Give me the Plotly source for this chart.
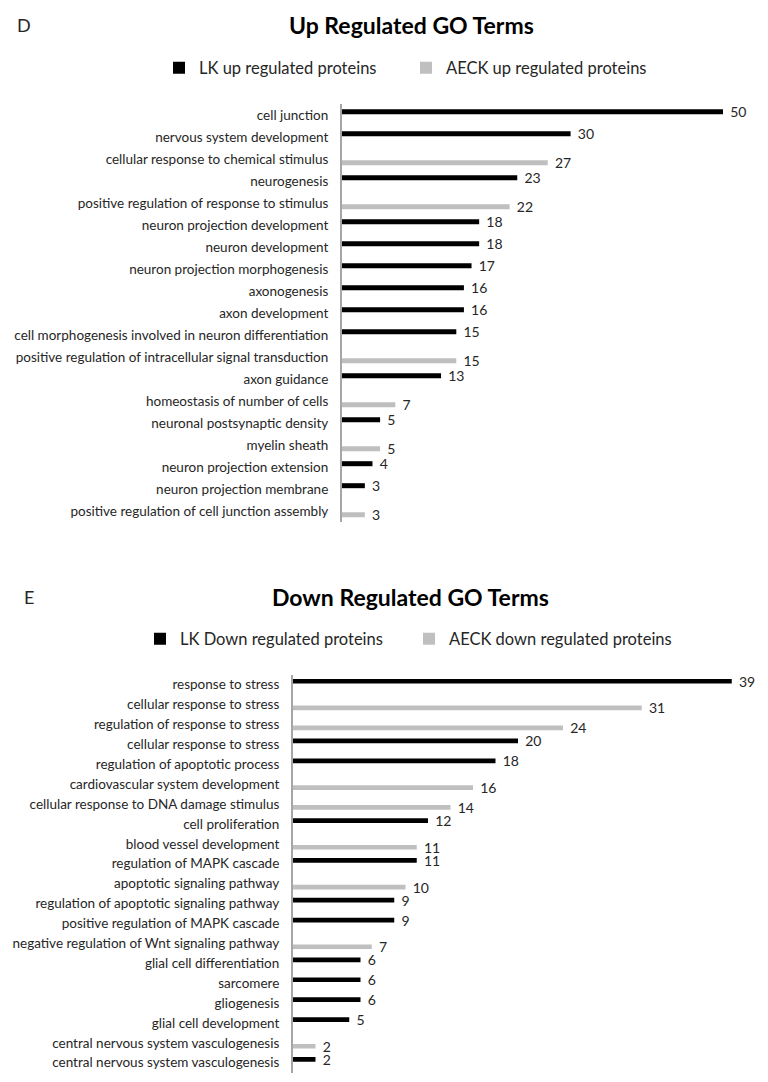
import plotly.graph_objects as go

# ---------------- data ----------------
up_terms = [
    "cell junction", "nervous system development", "cellular response to chemical stimulus",
    "neurogenesis", "positive regulation of response to stimulus", "neuron projection development",
    "neuron development", "neuron projection morphogenesis", "axonogenesis", "axon development",
    "cell morphogenesis involved in neuron differentiation",
    "positive regulation of intracellular signal transduction", "axon guidance",
    "homeostasis of number of cells", "neuronal postsynaptic density", "myelin sheath",
    "neuron projection extension", "neuron projection membrane",
    "positive regulation of cell junction assembly",
]
up_lk = [50, 30, None, 23, None, 18, 18, 17, 16, 16, 15, None, 13, None, 5, None, 4, 3, None]
up_aeck = [None, None, 27, None, 22, None, None, None, None, None, None, 15, None, 7, None, 5, None, None, 3]

down_terms = [
    "response to stress", "cellular response to stress", "regulation of response to stress",
    "cellular response to stress", "regulation of apoptotic process",
    "cardiovascular system development", "cellular response to DNA damage stimulus",
    "cell proliferation", "blood vessel development", "regulation of MAPK cascade",
    "apoptotic signaling pathway", "regulation of apoptotic signaling pathway",
    "positive regulation of MAPK cascade", "negative regulation of Wnt signaling pathway",
    "glial cell differentiation", "sarcomere", "gliogenesis", "glial cell development",
    "central nervous system vasculogenesis", "central nervous system vasculogenesis",
]
down_lk = [39, None, None, 20, 18, None, None, 12, None, 11, None, 9, 9, None, 6, 6, 6, 5, None, 2]
down_aeck = [None, 31, 24, None, None, 16, 14, None, 11, None, 10, None, None, 7, None, None, None, None, 2, None]

up_series = ["LK up regulated proteins", "AECK up regulated proteins"]
down_series = ["LK Down regulated proteins", "AECK down regulated proteins"]

# ---------------- style ----------------
FONT = "Lato"
BLACK = "#000000"
GREY = "#bfbfbf"
TXT = "#262626"
PAD = 8            # default page body margin
W = 768 - PAD
H = 1082 - PAD


def X(p):
    return (p - PAD) / W


def Y(p):
    return 1 - (p - PAD) / H


fig = go.Figure()

up_pos = list(range(len(up_terms)))
down_pos = list(range(len(down_terms)))


def add_bars(pos, vals, name, color, xa, ya, legend, off, thick):
    fig.add_trace(go.Bar(
        y=pos, x=vals, orientation="h", name=name,
        marker=dict(color=color, line=dict(width=0)),
        width=thick, offset=off - thick / 2,
        text=[None if v is None else str(v) for v in vals],
        texttemplate="\u00a0\u00a0%{text}",
        textposition="outside", constraintext="none", cliponaxis=False,
        textfont=dict(family=FONT, size=14, color=TXT),
        xaxis=xa, yaxis=ya, legend=legend,
    ))


# top chart: 22 px per row, bars ~5px thick, offset +-3.5px
add_bars(up_pos, up_lk, up_series[0], BLACK, "x", "y", "legend", -3.5 / 22, 5 / 22)
add_bars(up_pos, up_aeck, up_series[1], GREY, "x", "y", "legend", 3.5 / 22, 5 / 22)
# bottom chart: ~20 px per row
add_bars(down_pos, down_lk, down_series[0], BLACK, "x2", "y2", "legend2", -3.4 / 19.9, 4.7 / 19.9)
add_bars(down_pos, down_aeck, down_series[1], GREY, "x2", "y2", "legend2", 3.4 / 19.9, 4.7 / 19.9)

axis_common = dict(showgrid=False, zeroline=False, showticklabels=False, ticks="")
yaxis_common = dict(
    showgrid=False, zeroline=False, showline=True, linecolor="#a6a6a6", linewidth=2,
    ticks="", tickfont=dict(family=FONT, size=13.5, color=TXT), ticklabelstandoff=9,
    autorange=False, automargin=False,
)

fig.update_layout(
    width=W, height=H,
    margin=dict(l=0, r=0, t=0, b=0),
    paper_bgcolor="white", plot_bgcolor="white",
    barmode="overlay",
    font=dict(family=FONT, color=TXT),
    xaxis=dict(domain=[X(342), X(342 + 7.62 * 54)], range=[0, 54], anchor="y", **axis_common),
    yaxis=dict(domain=[Y(522.2), Y(104.2)], anchor="x",
               range=[len(up_terms) - 0.5, -0.5],
               tickmode="array", tickvals=up_pos, ticktext=up_terms, **yaxis_common),
    xaxis2=dict(domain=[X(293), X(293 + 11.25 * 41)], range=[0, 41], anchor="y2", **axis_common),
    yaxis2=dict(domain=[Y(1072.7), Y(674.7)], anchor="x2",
                range=[len(down_terms) - 0.5, -0.5],
                tickmode="array", tickvals=down_pos, ticktext=down_terms, **yaxis_common),
    legend=dict(orientation="h", x=X(406), xanchor="center", y=Y(68), yanchor="middle",
                font=dict(family=FONT, size=16.5, color=TXT), bgcolor="rgba(0,0,0,0)",
                traceorder="normal", entrywidth=202, entrywidthmode="pixels"),
    legend2=dict(orientation="h", x=X(409), xanchor="center", y=Y(639), yanchor="middle",
                 font=dict(family=FONT, size=16.5, color=TXT), bgcolor="rgba(0,0,0,0)",
                 traceorder="normal", entrywidth=224, entrywidthmode="pixels"),
    annotations=[
        dict(text="D", x=X(24), y=Y(25), xref="paper", yref="paper", showarrow=False,
             xanchor="center", yanchor="middle", font=dict(family=FONT, size=18, color=TXT)),
        dict(text="<b>Up Regulated GO Terms</b>", x=X(411), y=Y(25), xref="paper", yref="paper",
             showarrow=False, xanchor="center", yanchor="middle",
             font=dict(family=FONT, size=23, color="#000000")),
        dict(text="E", x=X(29), y=Y(597), xref="paper", yref="paper", showarrow=False,
             xanchor="center", yanchor="middle", font=dict(family=FONT, size=18, color=TXT)),
        dict(text="<b>Down Regulated GO Terms</b>", x=X(410), y=Y(597), xref="paper", yref="paper",
             showarrow=False, xanchor="center", yanchor="middle",
             font=dict(family=FONT, size=23, color="#000000")),
    ],
)

fig.write_html("out.html")
